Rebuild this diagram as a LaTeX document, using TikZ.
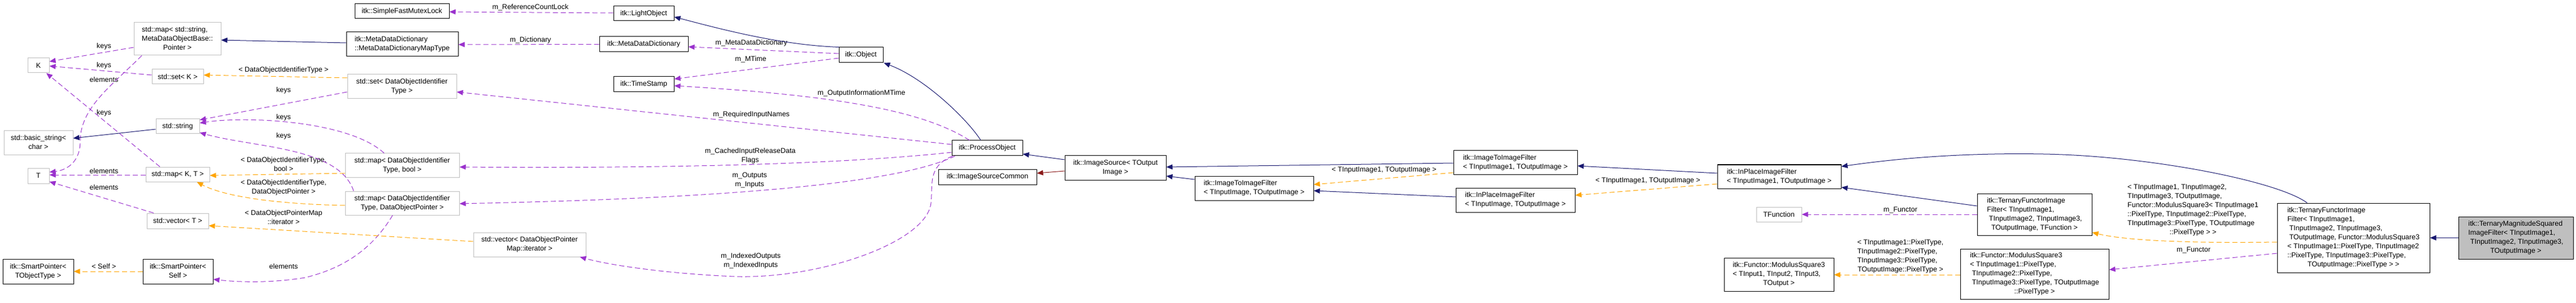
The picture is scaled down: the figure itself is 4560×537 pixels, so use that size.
\documentclass[tikz,border=0pt]{standalone}
\usepackage{fontspec}
\setmainfont{Liberation Sans}
\usepackage{tikz}
\usetikzlibrary{calc,arrows.meta}
\definecolor{edgeblue}{HTML}{191970}
\definecolor{edgeorange}{HTML}{FFA500}
\definecolor{edgepurple}{HTML}{9A32CD}
\definecolor{edgered}{HTML}{8B1A1A}
\definecolor{boxgray}{HTML}{BFBFBF}
\newcommand{\dl}[2]{\begin{tabular}{@{}l@{}}#1\\\multicolumn{1}{@{}c@{}}{#2}\end{tabular}}

\begin{document}
\begin{tikzpicture}[x=1pt,y=-1pt]
          \tikzset{cls/.style={draw=black, line width=1pt, inner sep=2pt, font=\fontsize{12.5}{16}\selectfont}}
          \tikzset{ext/.style={cls, draw=boxgray}}
          \tikzset{main/.style={cls, fill=boxgray}}
          \tikzset{lbl/.style={inner sep=0pt, font=\fontsize{12.5}{16}\selectfont}}
          \tikzset{inh/.style={draw=edgeblue, line width=1pt, -{Triangle[length=11pt,width=9pt]}}}
          \tikzset{prot/.style={inh, draw=edgered}}
          \tikzset{use/.style={draw=edgepurple, line width=1pt, dash pattern=on 9pt off 5pt, -{Triangle[length=11pt,width=9pt]}}}
          \tikzset{tmpl/.style={use, draw=edgeorange}}
          \useasboundingbox (0,0) rectangle (4560,537);

          \node[ext, minimum width=154pt, minimum height=58pt] (mapstr) at (314,69) {\dl{std::map< std::string,\\MetaDataObjectBase::}{Pointer >}};
          \node[ext, minimum width=38pt, minimum height=26pt] (keyK) at (68,116) {K};
          \node[ext, minimum width=91pt, minimum height=26pt] (setK) at (314.5,136) {std::set< K >};
          \node[ext, minimum width=77pt, minimum height=26pt] (stdstr) at (314.5,224) {std::string};
          \node[ext, minimum width=122pt, minimum height=43pt] (basicstr) at (68,253.5) {\dl{std::basic\_string<}{char >}};
          \node[ext, minimum width=38pt, minimum height=27pt] (elemT) at (68,311.5) {T};
          \node[ext, minimum width=113pt, minimum height=26pt] (mapKT) at (314.5,309) {std::map< K, T >};
          \node[ext, minimum width=109pt, minimum height=27pt] (vecT) at (314.5,391.5) {std::vector< T >};
          \node[cls, minimum width=125pt, minimum height=44pt] (spTObj) at (67.5,481) {\dl{itk::SmartPointer<}{TObjectType >}};
          \node[cls, minimum width=124pt, minimum height=44pt] (spSelf) at (315,481) {\dl{itk::SmartPointer<}{Self >}};
          \node[cls, minimum width=167pt, minimum height=26pt] (mutex) at (711.5,20) {itk::SimpleFastMutexLock};
          \node[cls, minimum width=198pt, minimum height=43pt] (dictmap) at (712,78.5) {\dl{itk::MetaDataDictionary}{::MetaDataDictionaryMapType}};
          \node[ext, minimum width=193pt, minimum height=43pt] (setdoit) at (711.5,153.5) {\dl{std::set< DataObjectIdentifier}{Type >}};
          \node[ext, minimum width=202pt, minimum height=42pt] (mapbool) at (712,293) {\dl{std::map< DataObjectIdentifier}{Type, bool >}};
          \node[ext, minimum width=202pt, minimum height=42pt] (mapptr) at (712,360) {\dl{std::map< DataObjectIdentifier}{Type, DataObjectPointer >}};
          \node[ext, minimum width=199pt, minimum height=43pt] (veciter) at (937.5,433.5) {\dl{std::vector< DataObjectPointer}{Map::iterator >}};
          \node[cls, minimum width=107pt, minimum height=26pt] (lightobj) at (1139.5,24) {itk::LightObject};
          \node[cls, minimum width=157pt, minimum height=27pt] (mdd) at (1139.5,78.5) {itk::MetaDataDictionary};
          \node[cls, minimum width=107pt, minimum height=27pt] (tstamp) at (1139.5,149.5) {itk::TimeStamp};
          \node[cls, minimum width=78pt, minimum height=27pt] (object) at (1524,97.5) {itk::Object};
          \node[cls, minimum width=125pt, minimum height=27pt] (procobj) at (1747.5,262.5) {itk::ProcessObject};
          \node[cls, minimum width=174pt, minimum height=27pt] (srccommon) at (1748,313.5) {itk::ImageSourceCommon};
          \node[cls, minimum width=179pt, minimum height=43pt] (imgsrc) at (1974.5,297.5) {\dl{itk::ImageSource< TOutput}{Image >}};
          \node[cls, minimum width=210pt, minimum height=43pt] (itoi) at (2220,333.5) {\dl{itk::ImageToImageFilter}{< TInputImage, TOutputImage >}};
          \node[cls, minimum width=219pt, minimum height=42pt] (itoione) at (2682.5,288) {\dl{itk::ImageToImageFilter}{< TInputImage1, TOutputImage >}};
          \node[cls, minimum width=211pt, minimum height=43pt] (inplace) at (2682.5,354.5) {\dl{itk::InPlaceImageFilter}{< TInputImage, TOutputImage >}};
          \node[cls, minimum width=219pt, minimum height=42pt] (inplaceone) at (3149.5,313) {\dl{itk::InPlaceImageFilter}{< TInputImage1, TOutputImage >}};
          \node[ext, minimum width=80pt, minimum height=26pt] (tfunc) at (3149,380) {TFunction};
          \node[cls, minimum width=194pt, minimum height=59pt] (modsq) at (3149,486.5) {\dl{itk::Functor::ModulusSquare3\\< TInput1, TInput2, TInput3,}{TOutput >}};
          \node[cls, minimum width=203pt, minimum height=74pt] (ternary) at (3601.5,380) {\dl{itk::TernaryFunctorImage\\Filter< TInputImage1,\\\ TInputImage2, TInputImage3,}{TOutputImage, TFunction >}};
          \node[cls, minimum width=263pt, minimum height=89pt] (modsqpx) at (3601.5,485.5) {\dl{itk::Functor::ModulusSquare3\\< TInputImage1::PixelType,\\\ TInputImage2::PixelType,\\\ TInputImage3::PixelType, TOutputImage}{::PixelType >}};
          \node[cls, minimum width=270pt, minimum height=123pt] (ternaryms) at (4166,421.5) {\dl{itk::TernaryFunctorImage\\Filter< TInputImage1,\\\ TInputImage2, TInputImage3,\\\ TOutputImage, Functor::ModulusSquare3\\< TInputImage1::PixelType, TInputImage2\\::PixelType, TInputImage3::PixelType,}{TOutputImage::PixelType > >}};
          \node[main, minimum width=203pt, minimum height=75pt] (magsq) at (4453.5,421.5) {\dl{itk::TernaryMagnitudeSquared\\ImageFilter< TInputImage1,\\\ TInputImage2, TInputImage3,}{TOutputImage >}};

          \node[lbl] (lkeysa) at (184,82) {keys};
          \node[lbl] (lkeysb) at (184,116) {keys};
          \node[lbl] (lelema) at (184,141) {elements};
          \node[lbl] (lkeysc) at (184,200) {keys};
          \node[lbl] (lelemb) at (184,303) {elements};
          \node[lbl] (lelemc) at (184,332) {elements};
          \node[lbl] (lself) at (184,472) {< Self >};
          \node[lbl] (ldoit) at (502,124) {< DataObjectIdentifierType >};
          \node[lbl] (lkeysd) at (502,160) {keys};
          \node[lbl] (lkeyse) at (502,208) {keys};
          \node[lbl] (lkeysf) at (502,241) {keys};
          \node[lbl] (lbool) at (502,292) {\dl{< DataObjectIdentifierType,}{bool >}};
          \node[lbl] (lptr) at (502,332) {\dl{< DataObjectIdentifierType,}{DataObjectPointer >}};
          \node[lbl] (liter) at (502,386) {\dl{< DataObjectPointerMap}{::iterator >}};
          \node[lbl] (lelemd) at (502,472) {elements};
          \node[lbl] (lrefcnt) at (939,13) {m\_ReferenceCountLock};
          \node[lbl] (ldict) at (939,71) {m\_Dictionary};
          \node[lbl] (lmdd) at (1330,76) {m\_MetaDataDictionary};
          \node[lbl] (lmtime) at (1329,105) {m\_MTime};
          \node[lbl] (loutinfo) at (1525,165) {m\_OutputInformationMTime};
          \node[lbl] (lreq) at (1330,203) {m\_RequiredInputNames};
          \node[lbl] (lcached) at (1328,276) {\dl{m\_CachedInputReleaseData}{Flags}};
          \node[lbl] (lio) at (1327,319) {\dl{m\_Outputs}{m\_Inputs}};
          \node[lbl] (lidx) at (1329,462) {\dl{m\_IndexedOutputs}{m\_IndexedInputs}};
          \node[lbl] (lone) at (2450,301) {< TInputImage1, TOutputImage >};
          \node[lbl] (ltwo) at (2917,320) {< TInputImage1, TOutputImage >};
          \node[lbl] (lfunc) at (3364,372) {m\_Functor};
          \node[lbl] (lpx) at (3364,454) {\dl{< TInputImage1::PixelType,\\TInputImage2::PixelType,\\TInputImage3::PixelType,}{TOutputImage::PixelType >}};
          \node[lbl] (lmsq) at (3882,372) {\dl{< TInputImage1, TInputImage2,\\TInputImage3, TOutputImage,\\Functor::ModulusSquare3< TInputImage1\\::PixelType, TInputImage2::PixelType,\\TInputImage3::PixelType, TOutputImage}{::PixelType > >}};
          \node[lbl] (lfuncb) at (3883,443) {m\_Functor};

          \draw[use] ($(mapstr.west)+(0,15)$) -- ($(keyK.east)+(0,-7)$);
          \draw[use] ($(setK.west)+(0,-3)$) -- ($(keyK.east)+(0,1)$);
          \draw[use] ($(mapstr.south)+(-63,0)$) .. controls (200,150) and (142,190) .. (142,250) .. controls (142,290) and (115,302) .. ($(elemT.east)+(0,-6.5)$);
          \draw[use] ($(mapKT.north)+(-31.5,0)$) -- ($(keyK.south)+(14,0)$);
          \draw[use] ($(mapKT.west)+(0,1)$) -- ($(elemT.east)+(0,-1.5)$);
          \draw[use] ($(vecT.north)+(-42.5,0)$) -- ($(elemT.east)+(0,10.5)$);
          \draw[use] ($(setdoit.west)+(0,9.5)$) -- ($(stdstr.north east)+(0,2)$);
          \draw[use] ($(mapbool.north)+(-32,0)$) .. controls (620,215) and (440,205) .. ($(stdstr.east)+(0,-6)$);
          \draw[use] ($(mapptr.north)+(-86,0)$) .. controls (600,260) and (450,262) .. ($(stdstr.east)+(0,11)$);
          \draw[use] ($(procobj.west)+(0,-6.5)$) -- ($(setdoit.east)+(0,9.5)$);
          \draw[use] ($(procobj.west)+(0,7.5)$) .. controls (1450,295) and (1100,298) .. ($(mapbool.east)+(0,3)$);
          \draw[use] ($(procobj.south west)+(6,0)$) .. controls (1560,340) and (1100,355) .. ($(mapptr.east)+(0,1)$);
          \draw[use] ($(procobj.south west)+(2,0)$) .. controls (1640,295) and (1652,330) .. (1648,360) .. controls (1640,430) and (1450,495) .. (1300,490) .. controls (1180,485) and (1080,470) .. ($(veciter.south east)+(-11,0)$);
          \draw[use] ($(procobj.north)+(-31.5,0)$) .. controls (1640,200) and (1500,170) .. ($(tstamp.east)+(0,2.5)$);
          \draw[use] ($(object.west)+(0,5.5)$) -- ($(tstamp.east)+(0,-9.5)$);
          \draw[use] ($(object.west)+(0,-2.5)$) -- ($(mdd.east)+(0,4.5)$);
          \draw[use] ($(lightobj.west)+(0,-1)$) -- ($(mutex.east)+(0,1)$);
          \draw[use] (mdd.west) -- ($(dictmap.east)+(0,0.5)$);
          \draw[use] ($(mapptr.south)+(-17,0)$) .. controls (660,440) and (610,475) .. (540,492) .. controls (480,502) and (420,500) .. ($(spSelf.east)+(0,14)$);
          \draw[use] (ternary.west) -- (tfunc.east);
          \draw[use] ($(ternaryms.west)+(0,27.5)$) -- ($(modsqpx.east)+(0,-7.5)$);

          \draw[tmpl] ($(setdoit.west)+(0,-15.5)$) -- ($(setK.east)+(0,-3)$);
          \draw[tmpl] ($(mapbool.west)+(0,14)$) -- ($(mapKT.east)+(0,2)$);
          \draw[tmpl] ($(mapptr.west)+(0,4)$) .. controls (500,362) and (400,350) .. ($(mapKT.south east)+(-23,0)$);
          \draw[tmpl] ($(veciter.west)+(0,-5.5)$) -- ($(vecT.east)+(0,8.5)$);
          \draw[tmpl] (spSelf.west) -- (spTObj.east);
          \draw[tmpl] ($(itoione.west)+(0,18)$) -- ($(itoi.east)+(0,-6.5)$);
          \draw[tmpl] ($(inplaceone.west)+(0,13)$) -- ($(inplace.east)+(0,-8.5)$);
          \draw[tmpl] ($(ternaryms.west)+(0,7.5)$) .. controls (3900,431) and (3770,428) .. ($(ternary.east)+(0,32)$);
          \draw[tmpl] ($(modsqpx.west)+(0,1.5)$) -- ($(modsq.east)+(0,0.5)$);

          \draw[inh] ($(stdstr.west)+(0,5)$) -- ($(basicstr.east)+(0,-8.5)$);
          \draw[inh] ($(dictmap.west)+(0,-2.5)$) -- ($(mapstr.east)+(0,2)$);
          \draw[inh] ($(object.north west)+(1,0)$) .. controls (1380,80) and (1270,50) .. ($(lightobj.east)+(0,6)$);
          \draw[inh] ($(procobj.north)+(-11.5,0)$) .. controls (1715,215) and (1640,140) .. ($(object.south east)+(1,0)$);
          \draw[inh] ($(imgsrc.west)+(0,-14.5)$) -- ($(procobj.east)+(0,10.5)$);
          \draw[prot] ($(imgsrc.west)+(0,5.5)$) -- ($(srccommon.east)+(0,-6.5)$);
          \draw[inh] ($(itoi.west)+(0,-15.5)$) -- ($(imgsrc.east)+(0,14.5)$);
          \draw[inh] ($(itoione.west)+(0,1)$) -- ($(imgsrc.east)+(0,-1.5)$);
          \draw[inh] ($(inplace.west)+(0,-5.5)$) -- ($(itoi.east)+(0,4.5)$);
          \draw[inh] ($(inplaceone.west)+(0,-6)$) -- ($(itoione.east)+(0,6)$);
          \draw[inh] ($(ternary.west)+(0,-15)$) -- ($(inplaceone.east)+(0,19)$);
          \draw[inh] ($(ternaryms.north)+(-82,0)$) .. controls (4030,320) and (3800,276) .. (3617,273) .. controls (3450,270) and (3330,285) .. ($(inplaceone.east)+(0,-18)$);
          \draw[inh] (magsq.west) -- (ternaryms.east);
\end{tikzpicture}
\end{document}
